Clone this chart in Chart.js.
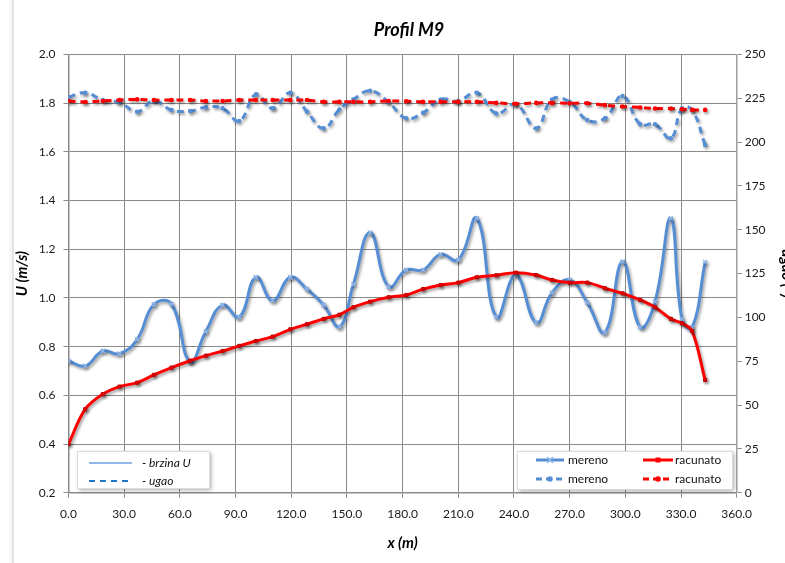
<!DOCTYPE html>
<html>
<head>
<meta charset="utf-8">
<script src="https://cdn.jsdelivr.net/npm/chart.js@4.4.1/dist/chart.umd.min.js"></script>
<style>
  html, body { margin: 0; padding: 0; background: #fff; overflow: hidden; }
  #wrap { position: relative; width: 800px; height: 563px; }
  #edge { position: absolute; left: 12px; top: 0; width: 2px; height: 563px;
          background: #e3e3e3; box-shadow: -2px 0 3px rgba(0,0,0,0.08); }
  canvas { position: absolute; left: 0; top: 0; }
</style>
</head>
<body>
<div id="wrap">
  <div id="edge"></div>
  <canvas id="profil" width="800" height="563"></canvas>
</div>
<script>
// stacionaza (m)
const stations = [0, 9, 18.5, 27.5, 37, 46, 55.5, 65.5, 74, 83, 92, 101, 110, 119.5, 128.5,
  137.5, 146, 153.5, 162.5, 172.5, 182, 191, 200.5, 210, 220, 230.5, 241, 252, 260.5, 270,
  279.5, 289, 298.5, 308, 316, 324.5, 330.5, 336, 343];

// brzina U (m/s)
const uMereno = [0.741, 0.721, 0.782, 0.771, 0.830, 0.973, 0.975, 0.738, 0.862, 0.971,
  0.921, 1.085, 0.989, 1.085, 1.036, 0.971, 0.882, 1.056, 1.268, 1.046,
  1.115, 1.115, 1.179, 1.156, 1.327, 0.921, 1.094, 0.899, 1.022, 1.074,
  0.981, 0.858, 1.149, 0.880, 0.985, 1.327, 0.913, 0.878, 1.147];
const uRacunato = [0.400, 0.543, 0.605, 0.636, 0.652, 0.684, 0.714, 0.742, 0.763, 0.782,
  0.803, 0.823, 0.841, 0.871, 0.892, 0.914, 0.931, 0.962, 0.985, 1.003,
  1.012, 1.036, 1.053, 1.063, 1.085, 1.093, 1.104, 1.094, 1.074, 1.063,
  1.063, 1.040, 1.019, 0.992, 0.962, 0.914, 0.896, 0.864, 0.663];

// ugao (stepeni)
const ugaoMereno = [225.7, 228.2, 224.0, 222.7, 217.4, 223.5, 218.3, 217.8, 219.9, 219.3,
  212.1, 227.3, 219.3, 228.2, 217.4, 207.9, 218.7, 224.4, 229.3, 222.7,
  213.6, 216.8, 224.4, 223.5, 228.2, 216.4, 221.6, 207.9, 224.4, 223.0,
  212.6, 213.6, 226.3, 210.2, 210.2, 202.2, 219.3, 218.3, 198.4];
const ugaoRacunato = [223.5, 222.9, 223.5, 224.0, 224.4, 224.0, 224.0, 224.0, 223.5, 223.5,
  224.0, 224.0, 224.0, 224.0, 224.0, 223.0, 223.0, 223.0, 223.0, 223.5,
  223.3, 223.0, 223.0, 223.0, 223.0, 222.4, 221.9, 222.4, 222.4, 222.2,
  222.2, 221.1, 220.3, 219.8, 219.2, 219.2, 218.8, 218.4, 218.4];

const BLUE = '#558ED5';
const RED = '#FF0000';
const FONT = 'Lato, "Open Sans", sans-serif';

const pts = (ys) => stations.map((x, i) => ({ x, y: ys[i] }));

// excel-ish shadow under every series
const lineShadow = {
  id: 'lineShadow',
  beforeDatasetDraw(chart) {
    const c = chart.ctx;
    c.save();
    c.shadowColor = 'rgba(0,0,0,0.38)';
    c.shadowBlur = 3;
    c.shadowOffsetX = 1.5;
    c.shadowOffsetY = 2;
  },
  afterDatasetDraw(chart) {
    chart.ctx.restore();
  }
};

function legendBox(ctx, x, y, w, h) {
  ctx.save();
  ctx.shadowColor = 'rgba(0,0,0,0.35)';
  ctx.shadowBlur = 4;
  ctx.shadowOffsetX = 2;
  ctx.shadowOffsetY = 2;
  ctx.fillStyle = '#fff';
  ctx.fillRect(x, y, w, h);
  ctx.restore();
  ctx.strokeStyle = '#dcdcdc';
  ctx.lineWidth = 1;
  ctx.strokeRect(x + 0.5, y + 0.5, w, h);
}

function sample(ctx, x1, x2, y, color, width, dash, marker) {
  ctx.save();
  ctx.strokeStyle = color;
  ctx.lineWidth = width;
  ctx.setLineDash(dash);
  ctx.beginPath();
  ctx.moveTo(x1, y);
  ctx.lineTo(x2, y);
  ctx.stroke();
  ctx.setLineDash([]);
  const mx = (x1 + x2) / 2;
  ctx.fillStyle = color;
  if (marker === 'rect') ctx.fillRect(mx - 2.5, y - 2.5, 5, 5);
  if (marker === 'dot') { ctx.beginPath(); ctx.arc(mx, y, 2.8, 0, Math.PI * 2); ctx.fill(); }
  if (marker === 'star') {
    ctx.strokeStyle = '#8fb4e6';
    ctx.lineWidth = 1.5;
    ctx.beginPath();
    ctx.moveTo(mx - 3, y - 3); ctx.lineTo(mx + 3, y + 3);
    ctx.moveTo(mx + 3, y - 3); ctx.lineTo(mx - 3, y + 3);
    ctx.stroke();
  }
  ctx.restore();
}

// title and the two legend boxes inside the plot
const extras = {
  id: 'extras',
  afterDraw(chart) {
    const ctx = chart.ctx;
    ctx.save();
    ctx.fillStyle = '#000';
    ctx.textAlign = 'center';
    ctx.textBaseline = 'middle';
    ctx.font = 'italic bold 18px ' + FONT;
    ctx.fillText('Profil M9', 409, 30);

    // left box: line types
    legendBox(ctx, 77, 451, 132, 37);
    sample(ctx, 89, 132, 463, '#6fa0e0', 1.5, [], null);
    sample(ctx, 89, 132, 481, '#1f78c8', 1.8, [6, 5], null);
    ctx.textAlign = 'left';
    ctx.fillStyle = '#111';
    ctx.font = 'italic 12px ' + FONT;
    ctx.fillText('- brzina U', 142, 463);
    ctx.fillText('- ugao', 142, 481);

    // right box: series
    legendBox(ctx, 517, 451, 215, 38);
    sample(ctx, 536, 564, 460, BLUE, 3, [], 'star');
    sample(ctx, 536, 564, 479, BLUE, 3, [6, 4], 'dot');
    sample(ctx, 643, 673, 460, RED, 3, [], 'rect');
    sample(ctx, 643, 673, 479, RED, 3, [6, 4], 'dot');
    ctx.font = '12px ' + FONT;
    ctx.fillStyle = '#111';
    ctx.fillText('mereno', 568, 460);
    ctx.fillText('mereno', 568, 479);
    ctx.fillText('racunato', 675, 460);
    ctx.fillText('racunato', 675, 479);
    ctx.restore();
  }
};

Chart.defaults.font.family = FONT;
Chart.defaults.font.size = 12;
Chart.defaults.color = '#1a1a1a';

new Chart(document.getElementById('profil'), {
  type: 'line',
  data: {
    datasets: [
      {
        label: 'racunato', data: pts(uRacunato), yAxisID: 'y',
        borderColor: RED, backgroundColor: RED, borderWidth: 3,
        pointStyle: 'rect', pointRadius: 2.2, pointBorderWidth: 1,
        pointBorderColor: '#c00000', tension: 0.35
      },
      {
        label: 'racunato ugao', data: pts(ugaoRacunato), yAxisID: 'y2',
        borderColor: RED, backgroundColor: RED, borderWidth: 3, borderDash: [7, 5],
        pointStyle: 'circle', pointRadius: 2.3, pointBorderWidth: 0, tension: 0.35
      },
      {
        label: 'mereno', data: pts(uMereno), yAxisID: 'y',
        borderColor: BLUE, backgroundColor: '#8fb4e6', borderWidth: 3,
        pointStyle: 'crossRot', pointRadius: 3, pointBorderWidth: 1.5,
        pointBorderColor: '#8fb4e6', tension: 0.45
      },
      {
        label: 'mereno ugao', data: pts(ugaoMereno), yAxisID: 'y2',
        borderColor: BLUE, backgroundColor: BLUE, borderWidth: 3, borderDash: [7, 5],
        pointStyle: 'circle', pointRadius: 2.2, pointBorderWidth: 0, tension: 0.45
      }
    ]
  },
  options: {
    responsive: false,
    animation: false,
    devicePixelRatio: 1,
    layout: { padding: { top: 54.5, left: 0, right: 0, bottom: 0 } },
    plugins: {
      legend: { display: false },
      tooltip: { enabled: false }
    },
    scales: {
      x: {
        type: 'linear', min: 0, max: 360,
        afterFit: (s) => { s.height = 70.3; },
        ticks: { stepSize: 30, padding: 9, callback: (v) => v.toFixed(1), maxRotation: 0 },
        grid: { color: '#8a8a8a', lineWidth: 1, tickLength: 5 },
        border: { color: '#8a8a8a', width: 1.5 },
        title: {
          display: true, text: 'x (m)',
          font: { size: 15, weight: 'bold', style: 'italic' },
          color: '#000', padding: { top: 0, bottom: 11 }
        }
      },
      y: {
        position: 'left', min: 0.2, max: 2.0,
        afterFit: (s) => { s.width = 68.5; },
        ticks: { stepSize: 0.2, padding: 8, callback: (v) => v.toFixed(1) },
        grid: { color: '#8a8a8a', lineWidth: 1, tickLength: 5 },
        border: { color: '#8a8a8a', width: 1.5 },
        title: {
          display: true, text: 'U (m/s)',
          font: { size: 15, weight: 'bold', style: 'italic' },
          color: '#000', padding: { top: 13, bottom: 0 }
        }
      },
      y2: {
        position: 'right', min: 0, max: 250,
        afterFit: (s) => { s.width = 63.3; },
        ticks: { stepSize: 25, padding: 3 },
        grid: { drawOnChartArea: false, color: '#8a8a8a', tickLength: 5 },
        border: { color: '#a0a0a0', width: 1.5 },
        title: {
          display: true, text: 'ugao (°)',
          font: { size: 15, weight: 'bold', style: 'italic' },
          color: '#000', padding: { top: 4, bottom: 0 }
        }
      }
    }
  },
  plugins: [lineShadow, extras]
});
</script>
</body>
</html>
